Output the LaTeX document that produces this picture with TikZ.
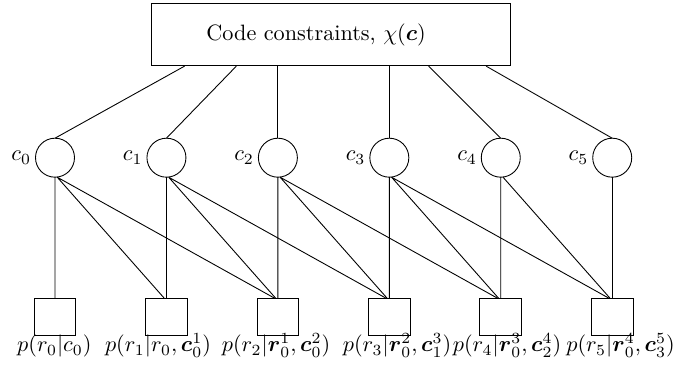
\documentclass[tikz,border=0pt]{standalone}
\usepackage{amsmath,amssymb}
\usetikzlibrary{positioning,calc}

\begin{document}
\begin{tikzpicture}[x=0.45pt,y=-0.45pt,
        var/.style={draw,circle,minimum size=17.55pt,inner sep=0pt,outer sep=0pt},
        fac/.style={draw,rectangle,minimum width=18.8pt,minimum height=16.8pt,inner sep=0pt,outer sep=0pt},
        lab/.style={inner sep=0pt}]

        \useasboundingbox (0,0) rectangle (696,378);

        \node (cc) [draw,minimum width=161.9pt,minimum height=28.2pt,inner sep=0pt] at (330.85,34.35) {};
        \node (cct) [lab,anchor=base west] at (206,40.7) {Code constraints, $\chi(\boldsymbol{c})$};

        \node (c0) [var] at (55,157.7) {};
        \node (c1) [var,right = 32.6pt of c0] {};
        \node (c2) [var,right = 32.6pt of c1] {};
        \node (c3) [var,right = 32.6pt of c2] {};
        \node (c4) [var,right = 32.6pt of c3] {};
        \node (c5) [var,right = 32.6pt of c4] {};

        \node (t0) [lab,left = 1.8pt of c0] {$c_0$};
        \node (t1) [lab,left = 1.8pt of c1] {$c_1$};
        \node (t2) [lab,left = 1.8pt of c2] {$c_2$};
        \node (t3) [lab,left = 1.8pt of c3] {$c_3$};
        \node (t4) [lab,left = 1.8pt of c4] {$c_4$};
        \node (t5) [lab,left = 1.8pt of c5] {$c_5$};

        \node (s0) [fac,below = 54.45pt of c0] {};
        \node (s1) [fac,below = 54.45pt of c1] {};
        \node (s2) [fac,below = 54.45pt of c2] {};
        \node (s3) [fac,below = 54.45pt of c3] {};
        \node (s4) [fac,below = 54.45pt of c4] {};
        \node (s5) [fac,below = 54.45pt of c5] {};

        \node (l0) [lab,anchor=base] at (54.3,352) {$p(r_0|c_0)$};
        \node (l1) [lab,anchor=base] at (158,352) {$p(r_1|r_0,\boldsymbol{c}_0^1)$};
        \node (l2) [lab,anchor=base] at (276,352) {$p(r_2|\boldsymbol{r}_0^1,\boldsymbol{c}_0^2)$};
        \node (l3) [lab,anchor=base] at (397,352) {$p(r_3|\boldsymbol{r}_0^2,\boldsymbol{c}_1^3)$};
        \node (l4) [lab,anchor=base] at (507,352) {$p(r_4|\boldsymbol{r}_0^3,\boldsymbol{c}_2^4)$};
        \node (l5) [lab,anchor=base] at (620.5,352) {$p(r_5|\boldsymbol{r}_0^4,\boldsymbol{c}_3^5)$};

        % constraint box to code symbols
        \draw ($(cc.south west)!0.0945!(cc.south east)$) -- (c0.north);
        \draw ($(cc.south west)!0.238!(cc.south east)$) -- (c1.north);
        \draw (cc.south -| c2.north) -- (c2.north);
        \draw (cc.south -| c3.north) -- (c3.north);
        \draw ($(cc.south west)!0.771!(cc.south east)$) -- (c4.north);
        \draw ($(cc.south west)!0.9305!(cc.south east)$) -- (c5.north);

        % code symbols to channel factors
        \draw (c0) -- (s0) ([xshift=1pt]c0.south) -- ([xshift=-1pt]s1.north) ([xshift=1pt]c0.south) -- ([xshift=-1.5pt]s2.north);
        \draw (c1) -- (s1) ([xshift=1pt]c1.south) -- ([xshift=-1pt]s2.north) ([xshift=1pt]c1.south) -- ([xshift=-1.5pt]s3.north);
        \draw (c2) -- (s2) ([xshift=1pt]c2.south) -- ([xshift=-1pt]s3.north) ([xshift=1pt]c2.south) -- ([xshift=-1.5pt]s4.north);
        \draw (c3) -- (s3) ([xshift=1pt]c3.south) -- ([xshift=-1pt]s4.north) ([xshift=1pt]c3.south) -- ([xshift=-1.5pt]s5.north);
        \draw (c4) -- (s4) ([xshift=1pt]c4.south) -- ([xshift=-1pt]s5.north);
        \draw (c5) -- (s5);
\end{tikzpicture}
\end{document}
